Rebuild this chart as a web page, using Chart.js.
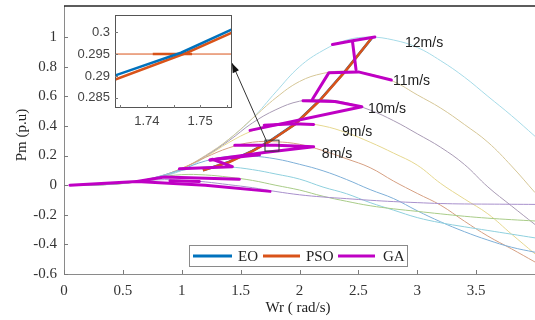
<!DOCTYPE html>
<html>
<head>
<meta charset="utf-8">
<script src="https://cdn.jsdelivr.net/npm/chart.js@4.4.1/dist/chart.umd.min.js"></script>
<style>
  body { margin: 0; background: #fff; }
  #wrap { position: relative; width: 535px; height: 320px; }
  #inset { position: absolute; left: 70px; top: 10px; }
</style>
</head>
<body>
<div id="wrap">
  <canvas id="mainChart" width="535" height="320"></canvas>
  <canvas id="inset" width="170" height="125"></canvas>
</div>
<script>
// rotor speed samples (rad/s) shared by all power curves
const wr = [0.05, 0.2, 0.4, 0.6, 0.8, 1.0, 1.2, 1.4, 1.6, 1.8, 2.0, 2.2, 2.4, 2.6, 2.8, 3.0, 3.2, 3.4, 3.6, 3.8, 4.0];

// mechanical power (p.u) per wind speed
const pm4  = [0, 0.001, 0.007, 0.023, 0.036, 0.034, 0.022, 0.003, -0.017, -0.043, -0.065, -0.08, -0.091, -0.102, -0.111, -0.118, -0.124, -0.127, -0.128, -0.129, -0.13];
const pm5  = [0, 0.001, 0.007, 0.024, 0.052, 0.071, 0.069, 0.054, 0.032, -0.001, -0.033, -0.075, -0.109, -0.139, -0.16, -0.177, -0.194, -0.21, -0.223, -0.233, -0.242];
const pm6  = [0, 0.001, 0.006, 0.024, 0.056, 0.099, 0.123, 0.123, 0.105, 0.075, 0.041, -0.013, -0.058, -0.118, -0.169, -0.219, -0.254, -0.281, -0.306, -0.331, -0.356];
const pm7  = [0, 0.001, 0.007, 0.022, 0.058, 0.107, 0.163, 0.195, 0.196, 0.177, 0.141, 0.097, 0.038, -0.03, -0.091, -0.173, -0.248, -0.314, -0.371, -0.419, -0.453];
const pm8  = [0, 0.001, 0.006, 0.022, 0.056, 0.113, 0.187, 0.252, 0.29, 0.293, 0.276, 0.233, 0.178, 0.118, 0.027, -0.056, -0.136, -0.243, -0.344, -0.43, -0.519];
const pm9  = [0, 0.001, 0.006, 0.021, 0.055, 0.114, 0.19, 0.288, 0.367, 0.413, 0.419, 0.40, 0.354, 0.29, 0.216, 0.135, 0.011, -0.093, -0.194, -0.33, -0.464];
const pm10 = [0, 0.001, 0.006, 0.022, 0.052, 0.11, 0.195, 0.30, 0.42, 0.51, 0.567, 0.578, 0.556, 0.507, 0.435, 0.347, 0.255, 0.14, -0.012, -0.14, -0.266];
const pm11 = [0, 0.001, 0.006, 0.02, 0.05, 0.11, 0.20, 0.31, 0.45, 0.59, 0.70, 0.755, 0.77, 0.75, 0.70, 0.61, 0.52, 0.41, 0.29, 0.13, -0.05];
const pm12 = [0, 0.001, 0.005, 0.02, 0.05, 0.10, 0.19, 0.31, 0.45, 0.63, 0.80, 0.91, 0.98, 1.0, 0.98, 0.93, 0.84, 0.73, 0.60, 0.47, 0.33];

// MPPT trajectories
const eoX  = [1.18, 1.4, 1.6, 1.745, 1.96, 2.17, 2.39, 2.62];
const eoY  = [0.10, 0.157, 0.232, 0.296, 0.412, 0.572, 0.772, 1.0];
const psoX = [1.18, 1.4, 1.6, 1.745, 1.96, 2.17, 2.39, 2.62];
const psoY = [0.10, 0.155, 0.23, 0.295, 0.41, 0.57, 0.77, 1.0];
const gaSegments = [
  [[0.05, 0], [0.62, 0.025], [1.2, 0.0], [1.75, -0.042]],
  [[0.62, 0.025], [0.85, 0.055], [1.49, 0.04]],
  [[0.9, 0.03], [1.15, 0.025]],
  [[0.98, 0.11], [1.43, 0.125], [1.26, 0.175]],
  [[1.24, 0.17], [1.66, 0.205]],
  [[1.24, 0.17], [1.7, 0.22], [2.12, 0.26], [1.8, 0.27], [1.45, 0.27]],
  [[1.7, 0.405], [1.95, 0.415], [2.12, 0.41]],
  [[1.58, 0.37], [2.53, 0.53], [2.3, 0.565], [2.03, 0.57]],
  [[2.11, 0.58], [2.25, 0.76], [2.5, 0.765], [2.78, 0.71]],
  [[2.48, 0.78], [2.45, 0.97]],
  [[2.28, 0.95], [2.45, 0.975], [2.64, 1.0]]
];

// inset (zoom around the 8 m/s optimum)
const insetEoX  = [1.733, 1.7464, 1.757];
const insetEoY  = [0.2897, 0.2953, 0.3012];
const insetPsoX = [1.733, 1.7475, 1.757];
const insetPsoY = [0.2887, 0.2953, 0.3004];
const insetSearchX = [1.7411, 1.7485];
const insetSearchY = [0.295, 0.295];
const insetRefX = [1.733, 1.757];
const insetRefY = [0.295, 0.295];

const xTicks = [0, 0.5, 1, 1.5, 2, 2.5, 3, 3.5, 4];
const yTicks = [-0.6, -0.4, -0.2, 0, 0.2, 0.4, 0.6, 0.8, 1];
const insetXTicks = [1.735, 1.74, 1.745, 1.75, 1.755];
const insetYTicks = [0.285, 0.29, 0.295, 0.3];

const speedLabels = ['12m/s', '11m/s', '10m/s', '9m/s', '8m/s'];
const speedLabelX = [2.896, 2.794, 2.581, 2.361, 2.19];
const speedLabelY = [0.96, 0.703, 0.514, 0.358, 0.209];

const curveColors = ['#a890cc', '#a9cc88', '#8fd0de', '#7fb0d8', '#d6a083', '#e6d890', '#a99bb5', '#d6c797', '#a6dbe8'];
const serif = '"Liberation Serif", "Times New Roman", serif';
const sans = '"Liberation Sans", Arial, sans-serif';

function pts(xs, ys){
    return xs.map((x, i) => ({x: x, y: ys[i]}));
}

function line(ctx, x1, y1, x2, y2){
    ctx.beginPath();
    ctx.moveTo(x1, y1);
    ctx.lineTo(x2, y2);
    ctx.stroke();
}

let datasets = [];
[pm4, pm5, pm6, pm7, pm8, pm9, pm10, pm11, pm12].forEach((pm, i) => {
    datasets.push({data: pts(wr, pm), borderColor: curveColors[i], borderWidth: 1,
        showLine: true, tension: 0.4, order: 5});
});
datasets.push({data: pts(eoX, eoY), borderColor: '#0072BD', borderWidth: 2.5, showLine: true, order: 3});
datasets.push({data: pts(psoX, psoY), borderColor: '#D95319', borderWidth: 2.5, showLine: true, order: 2});
gaSegments.forEach(seg => {
    datasets.push({data: seg.map(p => ({x: p[0], y: p[1]})), borderColor: '#bf00c4', borderWidth: 3,
        showLine: true, borderCapStyle: 'round', borderJoinStyle: 'round', order: 1});
});

const mainDecor = {
    id: 'mainDecor',
    afterDraw(chart){
        const ctx = chart.ctx, xs = chart.scales.x, ys = chart.scales.y, a = chart.chartArea;
        ctx.save();
        // top box edge
        ctx.strokeStyle = '#262626';
        ctx.lineWidth = 1.5;
        line(ctx, a.left, a.top, a.right, a.top);
        // inward ticks
        ctx.strokeStyle = '#7a7a7a';
        ctx.lineWidth = 1;
        xTicks.forEach(v => { const px = Math.round(xs.getPixelForValue(v)) + 0.5; line(ctx, px, a.bottom, px, a.bottom - 4); });
        yTicks.forEach(v => { const py = Math.round(ys.getPixelForValue(v)) + 0.5; line(ctx, a.left, py, a.left + 4, py); });

        // wind speed labels
        ctx.fillStyle = '#222';
        ctx.font = '14px ' + sans;
        ctx.textAlign = 'left';
        ctx.textBaseline = 'middle';
        speedLabels.forEach((t, i) => ctx.fillText(t, xs.getPixelForValue(speedLabelX[i]), ys.getPixelForValue(speedLabelY[i])));

        // zoom box and arrow to inset
        ctx.strokeStyle = '#333';
        ctx.lineWidth = 1;
        const rx1 = xs.getPixelForValue(1.707), rx2 = xs.getPixelForValue(1.826);
        const ry1 = ys.getPixelForValue(0.304), ry2 = ys.getPixelForValue(0.23);
        ctx.strokeRect(rx1, ry1, rx2 - rx1, ry2 - ry1);
        const ax1 = xs.getPixelForValue(1.724), ay1 = ys.getPixelForValue(0.29);
        const ax2 = xs.getPixelForValue(1.427), ay2 = ys.getPixelForValue(0.824);
        line(ctx, ax1, ay1, ax2, ay2);
        const ang = Math.atan2(ay2 - ay1, ax2 - ax1);
        ctx.fillStyle = '#111';
        ctx.beginPath();
        ctx.moveTo(ax2, ay2);
        ctx.lineTo(ax2 - 10 * Math.cos(ang - 0.35), ay2 - 10 * Math.sin(ang - 0.35));
        ctx.lineTo(ax2 - 10 * Math.cos(ang + 0.35), ay2 - 10 * Math.sin(ang + 0.35));
        ctx.closePath();
        ctx.fill();

        // legend
        ctx.fillStyle = '#fff';
        ctx.fillRect(189, 245, 218, 21);
        ctx.strokeStyle = '#8a8a8a';
        ctx.strokeRect(189.5, 245.5, 218, 21);
        const items = [['EO', '#0072BD', 193, 232, 238], ['PSO', '#D95319', 263, 300, 306], ['GA', '#bf00c4', 338, 375, 383]];
        ctx.font = '15px ' + serif;
        ctx.textBaseline = 'middle';
        items.forEach(it => {
            ctx.strokeStyle = it[1];
            ctx.lineWidth = 3;
            line(ctx, it[2], 256, it[3], 256);
            ctx.fillStyle = '#222';
            ctx.fillText(it[0], it[4], 257);
        });

        // axis titles
        ctx.fillStyle = '#222';
        ctx.font = '15px ' + serif;
        ctx.textAlign = 'center';
        ctx.fillText('Wr ( rad/s)', 298, 308);
        ctx.translate(22, 135);
        ctx.rotate(-Math.PI / 2);
        ctx.fillText('Pm (p.u)', 0, 0);
        ctx.restore();
    }
};

new Chart(document.getElementById('mainChart'), {
    type: 'scatter',
    data: {datasets: datasets},
    options: {
        responsive: false,
        animation: false,
        devicePixelRatio: 1,
        layout: {padding: {top: 6, right: 0, left: 0, bottom: 0}},
        plugins: {legend: {display: false}, tooltip: {enabled: false}},
        elements: {point: {radius: 0}},
        scales: {
            x: {
                type: 'linear', min: 0, max: 4,
                afterBuildTicks: s => { s.ticks = xTicks.map(v => ({value: v})); },
                afterFit: s => { s.height = 46; s.paddingLeft = 0; s.paddingRight = 0; },
                ticks: {padding: 8, color: '#333', font: {family: serif, size: 15}, maxRotation: 0, autoSkip: false,
                    callback: v => v === 4 ? '' : String(v)},
                grid: {display: false, drawTicks: false},
                border: {color: '#8a8a8a'}
            },
            y: {
                min: -0.6, max: 1.21,
                afterBuildTicks: s => { s.ticks = yTicks.map(v => ({value: v})); },
                afterFit: s => { s.width = 64; s.paddingTop = 0; s.paddingBottom = 0; },
                ticks: {padding: 7, color: '#333', font: {family: serif, size: 15}, autoSkip: false,
                    callback: v => String(v)},
                grid: {display: false, drawTicks: false},
                border: {color: '#8a8a8a'}
            }
        }
    },
    plugins: [mainDecor]
});

const insetDecor = {
    id: 'insetDecor',
    beforeDraw(chart){
        const a = chart.chartArea, ctx = chart.ctx;
        ctx.save();
        ctx.fillStyle = '#fff';
        ctx.fillRect(a.left, a.top, a.right - a.left, a.bottom - a.top);
        ctx.restore();
    },
    afterDraw(chart){
        const a = chart.chartArea, ctx = chart.ctx, xs = chart.scales.x, ys = chart.scales.y;
        ctx.save();
        ctx.strokeStyle = '#555';
        ctx.lineWidth = 1;
        ctx.strokeRect(a.left + 0.5, a.top + 0.5, a.right - a.left - 1, a.bottom - a.top - 1);
        ctx.strokeStyle = '#777';
        insetXTicks.forEach(v => { const px = Math.round(xs.getPixelForValue(v)) + 0.5; line(ctx, px, a.bottom, px, a.bottom - 3); });
        insetYTicks.forEach(v => { const py = Math.round(ys.getPixelForValue(v)) + 0.5; line(ctx, a.left, py, a.left + 3, py); });
        ctx.restore();
    }
};

new Chart(document.getElementById('inset'), {
    type: 'scatter',
    data: {
        datasets: [
            {data: pts(insetEoX, insetEoY), borderColor: '#0072BD', borderWidth: 2.5, showLine: true, order: 1},
            {data: pts(insetPsoX, insetPsoY), borderColor: '#D95319', borderWidth: 2.5, showLine: true, order: 2},
            {data: pts(insetSearchX, insetSearchY), borderColor: '#D95319', borderWidth: 2.5, showLine: true, order: 2},
            {data: pts(insetRefX, insetRefY), borderColor: '#D95319', borderWidth: 1, showLine: true, order: 3}
        ]
    },
    options: {
        responsive: false,
        animation: false,
        devicePixelRatio: 1,
        layout: {padding: {top: 5, right: 8, left: 0, bottom: 0}},
        plugins: {legend: {display: false}, tooltip: {enabled: false}},
        elements: {point: {radius: 0}},
        scales: {
            x: {
                type: 'linear', min: 1.734, max: 1.756,
                afterBuildTicks: s => { s.ticks = insetXTicks.map(v => ({value: v})); },
                afterFit: s => { s.height = 27; s.paddingLeft = 0; s.paddingRight = 0; },
                ticks: {padding: 6, color: '#444', font: {family: sans, size: 13}, maxRotation: 0, autoSkip: false,
                    callback: v => Math.abs(v - 1.74) < 1e-6 ? '1.74' : (Math.abs(v - 1.75) < 1e-6 ? '1.75' : '')},
                grid: {display: false, drawTicks: false},
                border: {display: false}
            },
            y: {
                min: 0.2827, max: 0.3039,
                afterBuildTicks: s => { s.ticks = insetYTicks.map(v => ({value: v})); },
                afterFit: s => { s.width = 45; s.paddingTop = 0; s.paddingBottom = 0; },
                ticks: {padding: 5, color: '#444', font: {family: sans, size: 13}, autoSkip: false,
                    callback: v => String(v)},
                grid: {display: false, drawTicks: false},
                border: {display: false}
            }
        }
    },
    plugins: [insetDecor]
});
</script>
</body>
</html>
